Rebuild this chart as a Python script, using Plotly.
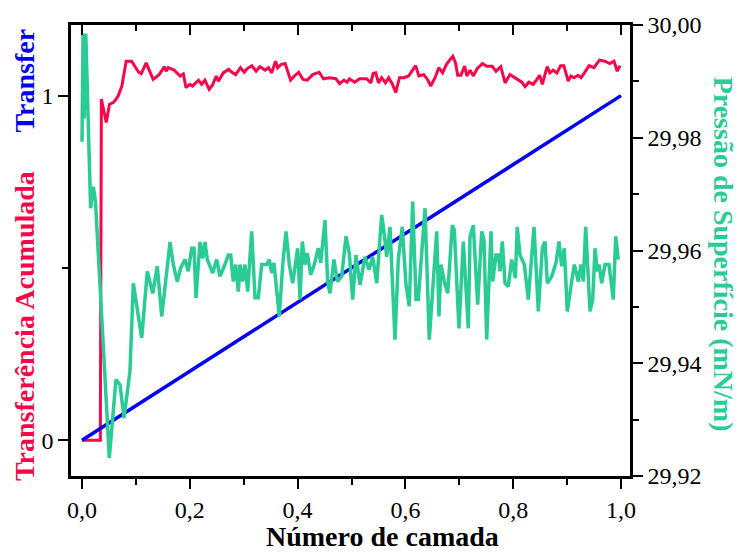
import plotly.graph_objects as go

# ---------------- data ----------------
layer_red = [0.000, 0.034, 0.036, 0.045, 0.051, 0.058, 0.061, 0.067, 0.074, 0.082, 0.092, 0.105, 0.110, 0.119,
             0.132, 0.143, 0.153, 0.156, 0.160, 0.171, 0.182, 0.188, 0.193, 0.200, 0.205, 0.210, 0.216, 0.222,
             0.228, 0.236, 0.242, 0.249, 0.253, 0.262, 0.272, 0.278, 0.285, 0.294, 0.301, 0.306, 0.315, 0.323,
             0.330, 0.340, 0.346, 0.352, 0.359, 0.363, 0.369, 0.377, 0.387, 0.394, 0.402, 0.410, 0.418, 0.428,
             0.440, 0.448, 0.459, 0.471, 0.478, 0.486, 0.492, 0.496, 0.506, 0.515, 0.528, 0.536, 0.540, 0.545,
             0.550, 0.556, 0.563, 0.569, 0.576, 0.582, 0.589, 0.597, 0.606, 0.612, 0.619, 0.625, 0.634, 0.641,
             0.647, 0.655, 0.662, 0.669, 0.676, 0.683, 0.688, 0.693, 0.697, 0.703, 0.710, 0.714, 0.720, 0.726,
             0.733, 0.743, 0.751, 0.761, 0.768, 0.777, 0.785, 0.794, 0.802, 0.810, 0.816, 0.822, 0.829, 0.837,
             0.843, 0.849, 0.854, 0.863, 0.868, 0.874, 0.881, 0.888, 0.894, 0.902, 0.907, 0.913, 0.920, 0.926,
             0.933, 0.941, 0.950, 0.960, 0.970, 0.979, 0.987, 0.993, 0.998]
transfer_acum = [0.000, 0.000, 0.990, 0.922, 0.975, 0.980, 0.985, 0.999, 1.028, 1.100, 1.100, 1.068, 1.064, 1.095,
                 1.047, 1.061, 1.084, 1.071, 1.081, 1.074, 1.057, 1.063, 1.023, 1.033, 1.028, 1.037, 1.045, 1.033,
                 1.045, 1.018, 1.030, 1.057, 1.042, 1.066, 1.076, 1.068, 1.061, 1.081, 1.068, 1.078, 1.087, 1.071,
                 1.084, 1.074, 1.081, 1.066, 1.100, 1.081, 1.090, 1.093, 1.045, 1.057, 1.068, 1.047, 1.045, 1.061,
                 1.068, 1.049, 1.052, 1.049, 1.035, 1.045, 1.039, 1.049, 1.039, 1.049, 1.049, 1.037, 1.064, 1.066,
                 1.037, 1.052, 1.037, 1.052, 1.033, 1.009, 1.052, 1.052, 1.057, 1.071, 1.087, 1.057, 1.061, 1.047,
                 1.028, 1.052, 1.081, 1.066, 1.090, 1.105, 1.114, 1.095, 1.059, 1.059, 1.086, 1.057, 1.074, 1.057,
                 1.078, 1.093, 1.085, 1.085, 1.071, 1.084, 1.037, 1.061, 1.052, 1.045, 1.039, 1.026, 1.039, 1.033,
                 1.045, 1.059, 1.033, 1.084, 1.066, 1.074, 1.066, 1.087, 1.087, 1.042, 1.057, 1.052, 1.059, 1.052,
                 1.068, 1.087, 1.081, 1.103, 1.100, 1.093, 1.100, 1.071, 1.087]

layer_blue = [0.0, 1.0]
transfer = [0.0, 1.0]

layer_green = [0.000, 0.002, 0.004, 0.007, 0.016, 0.021, 0.025, 0.0507, 0.063, 0.0705, 0.078, 0.089,
               0.0952, 0.1108, 0.1212, 0.1312, 0.1397, 0.1479, 0.1633, 0.1694, 0.1768, 0.1831, 0.1911, 0.1972,
               0.2035, 0.2078, 0.2115, 0.2189, 0.2239, 0.2282, 0.2325, 0.2425, 0.2499, 0.2560, 0.2640, 0.2714,
               0.2759, 0.2807, 0.2852, 0.2900, 0.2931, 0.2981, 0.3024, 0.3074, 0.3148, 0.3210, 0.3271, 0.3334,
               0.3427, 0.3475, 0.3519, 0.3562, 0.3660, 0.3724, 0.3785, 0.3846, 0.3909, 0.4002, 0.4045, 0.4087,
               0.4137, 0.4180, 0.4243, 0.4310, 0.4384, 0.4429, 0.4508, 0.4558, 0.4601, 0.4675, 0.4737, 0.4818,
               0.4898, 0.4959, 0.5022, 0.5083, 0.5158, 0.5250, 0.5325, 0.5393, 0.5468, 0.5560, 0.5609, 0.5653,
               0.5714, 0.5807, 0.5868, 0.5942, 0.6011, 0.6072, 0.6135, 0.6197, 0.6239, 0.6364, 0.6443, 0.6518,
               0.6581, 0.6623, 0.6660, 0.6722, 0.6785, 0.6870, 0.6907, 0.6994, 0.7074, 0.7167, 0.7199, 0.7260,
               0.7341, 0.7416, 0.7458, 0.7508, 0.7588, 0.7620, 0.7681, 0.7724, 0.7755, 0.7798, 0.7848, 0.7909,
               0.7972, 0.8040, 0.8075, 0.8126, 0.8206, 0.8280, 0.8386, 0.8466, 0.8540, 0.8590, 0.8633, 0.8714,
               0.8794, 0.8850, 0.8900, 0.8948, 0.9004, 0.9085, 0.9134, 0.9208, 0.9258, 0.9301, 0.9345, 0.9425,
               0.9475, 0.9518, 0.9560, 0.9592, 0.9642, 0.9703, 0.9777, 0.9857, 0.9902, 0.9950]
pressao = [29.9793, 29.9985, 29.9834, 29.9985, 29.9675, 29.9713, 29.9687, 29.9232, 29.9371, 29.9362, 29.9303, 29.9386,
           29.9542, 29.9445, 29.9563, 29.9524, 29.9572, 29.9483, 29.9615, 29.9575, 29.9545, 29.9569, 29.9584, 29.9563,
           29.9604, 29.9604, 29.9516, 29.9615, 29.9586, 29.9615, 29.9584, 29.9560, 29.9584, 29.9554, 29.9572, 29.9592,
           29.9592, 29.9545, 29.9575, 29.9527, 29.9575, 29.9545, 29.9575, 29.9527, 29.9634, 29.9516, 29.9516, 29.9575,
           29.9575, 29.9584, 29.9560, 29.9578, 29.9483, 29.9575, 29.9634, 29.9575, 29.9542, 29.9604, 29.9513, 29.9616,
           29.9575, 29.9595, 29.9557, 29.9575, 29.9604, 29.9578, 29.9654, 29.9545, 29.9524, 29.9584, 29.9545, 29.9554,
           29.9625, 29.9595, 29.9513, 29.9592, 29.9539, 29.9589, 29.9566, 29.9589, 29.9542, 29.9663, 29.9628, 29.9589,
           29.9642, 29.9442, 29.9584, 29.9642, 29.9539, 29.9501, 29.9687, 29.9513, 29.9513, 29.9675, 29.9442, 29.9551,
           29.9634, 29.9483, 29.9575, 29.9545, 29.9524, 29.9645, 29.9637, 29.9462, 29.9616, 29.9462, 29.9625, 29.9645,
           29.9504, 29.9634, 29.9619, 29.9442, 29.9634, 29.9545, 29.9592, 29.9592, 29.9563, 29.9616, 29.9542, 29.9536,
           29.9584, 29.9551, 29.9642, 29.9592, 29.9575, 29.9513, 29.9642, 29.9492, 29.9604, 29.9616, 29.9542, 29.9554,
           29.9578, 29.9616, 29.9572, 29.9604, 29.9492, 29.9545, 29.9575, 29.9545, 29.9575, 29.9545, 29.9642, 29.9492,
           29.9513, 29.9604, 29.9563, 29.9575, 29.9542, 29.9575, 29.9575, 29.9513, 29.9625, 29.9584]

x_ticks = [0.0, 0.2, 0.4, 0.6, 0.8, 1.0]
yl_ticks = [0, 1]
yr_ticks = [29.92, 29.94, 29.96, 29.98, 30.00]

RED = "#F8064A"
BLUE = "#0000F5"
GREEN = "#2BCB95"
FONT = "Liberation Serif"

fig = go.Figure()
fig.add_trace(go.Scatter(x=layer_red, y=transfer_acum, mode="lines",
                         line=dict(color=RED, width=3), showlegend=False))
fig.add_trace(go.Scatter(x=layer_blue, y=transfer, mode="lines",
                         line=dict(color=BLUE, width=3.5), showlegend=False))
fig.add_trace(go.Scatter(x=layer_green, y=pressao, mode="lines", yaxis="y2",
                         line=dict(color=GREEN, width=3.5), showlegend=False))
# empty trace to anchor the top (mirror) axis
fig.add_trace(go.Scatter(x=[None], y=[None], xaxis="x2", showlegend=False, hoverinfo="skip"))

XR = [-0.0204, 1.0167]
tickfont = dict(family=FONT, size=24, color="black")

fig.update_layout(
    width=740, height=553,
    margin=dict(l=71, r=110, t=22, b=77),
    plot_bgcolor="white", paper_bgcolor="white",
    separators=",.",
    xaxis=dict(range=XR, tickvals=x_ticks, tickformat=".1f", ticks="outside", ticklen=10, tickwidth=2,
               tickcolor="black", showline=True, linecolor="black", linewidth=2.5, showgrid=False,
               zeroline=False, tickfont=tickfont,
               minor=dict(dtick=0.1, tick0=0, ticks="outside", ticklen=6, tickwidth=2, tickcolor="black",
                          showgrid=False)),
    xaxis2=dict(range=XR, overlaying="x", side="top", anchor="y", tickvals=x_ticks, ticks="inside",
                ticklen=10, tickwidth=2, tickcolor="black", showticklabels=False, showline=True,
                linecolor="black", linewidth=2.5, showgrid=False, zeroline=False,
                minor=dict(dtick=0.1, tick0=0, ticks="inside", ticklen=6, tickwidth=2, tickcolor="black",
                           showgrid=False)),
    yaxis=dict(range=[-0.104, 1.205], tickvals=yl_ticks, ticks="outside", ticklen=10, tickwidth=2,
               tickcolor="black", showline=True, linecolor="black", linewidth=2.5, showgrid=False,
               zeroline=False, tickfont=tickfont,
               minor=dict(tickvals=[0.5], ticks="outside", ticklen=6, tickwidth=2, tickcolor="black",
                          showgrid=False)),
    yaxis2=dict(range=[29.92, 30.00], overlaying="y", side="right", anchor="x", tickvals=yr_ticks,
                tickformat=".2f", ticks="outside", ticklen=10, tickwidth=2, tickcolor="black",
                showline=True, linecolor="black", linewidth=2.5, showgrid=False, zeroline=False,
                tickfont=tickfont,
                minor=dict(dtick=0.01, tick0=29.92, ticks="outside", ticklen=6, tickwidth=2,
                           tickcolor="black", showgrid=False)),
)

tfont = dict(family=FONT, size=28)
fig.add_annotation(text="<b>Número de camada</b>", xref="paper", yref="paper", x=0.558, y=-0.134,
                   xanchor="center", yanchor="middle", showarrow=False, font=dict(tfont, color="black"))
fig.add_annotation(text="<b>Transfer</b>", xref="paper", yref="paper", x=-0.0823, y=0.8767,
                   xanchor="center", yanchor="middle", textangle=-90, showarrow=False,
                   font=dict(tfont, color=BLUE))
fig.add_annotation(text="<b>Transferência Acumulada</b>", xref="paper", yref="paper", x=-0.0823, y=0.3326,
                   xanchor="center", yanchor="middle", textangle=-90, showarrow=False,
                   font=dict(tfont, color=RED))
fig.add_annotation(text="<b>Pressão de Superfície (mN/m)</b>", xref="paper", yref="paper", x=1.168, y=0.491,
                   xanchor="center", yanchor="middle", textangle=90, showarrow=False,
                   font=dict(tfont, color=GREEN))

fig.write_html("out.html")
